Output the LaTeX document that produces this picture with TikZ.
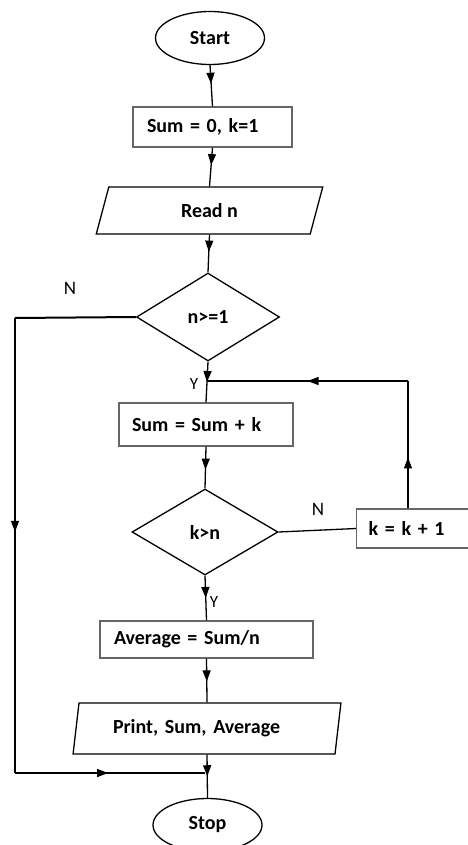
\documentclass[tikz,border=0pt]{standalone}
\usepackage{fontspec}
\setmainfont{Carlito}
\usetikzlibrary{shapes.geometric,arrows.meta,decorations.markings}
\tikzset{
  lbl/.style={font=\fontsize{19}{22}\selectfont},
  ylbl/.style={font=\fontsize{17}{20}\selectfont},
  term/.style={ellipse,draw=black,line width=1.3pt,inner sep=0pt,minimum width=109pt,minimum height=53pt,font=\fontsize{20}{24}\selectfont\bfseries},
  procbox/.style={rectangle,draw=black!60,line width=1.3pt,inner xsep=0pt,inner ysep=0pt,align=left,font=\fontsize{20}{24}\selectfont\bfseries},
  iobox/.style={trapezium,trapezium left angle=76,trapezium right angle=104,trapezium stretches=true,draw=black,line width=1.3pt,inner sep=0pt,font=\fontsize{20}{24}\selectfont\bfseries},
  decbox/.style={diamond,draw=black,line width=1.3pt,inner sep=0pt,font=\fontsize{20}{24}\selectfont\bfseries},
  conn/.style={draw=black,line width=1.3pt},
  midarrow/.style={postaction={decorate},decoration={markings,mark=at position #1 with {\arrow{Triangle[length=11pt,width=8pt]}}}}
}
\begin{document}
\begin{tikzpicture}[x=1pt,y=-1pt]
\useasboundingbox (0,0) rectangle (467,845);
\node[term] (start) at (210,38) {Start};
\node[procbox,minimum width=159pt,minimum height=40pt,text width=131pt] (init) at (212.5,127) {Sum = 0, k=1};
\node[iobox,minimum width=227pt,minimum height=47pt] (read) at (209.5,210.5) {Read n};
\node[decbox,minimum width=143pt,minimum height=88pt] (d1) at (208,317) {n>=1};
\node[procbox,minimum width=174pt,minimum height=43pt,text width=148pt] (sum) at (206,424.5) {Sum = Sum + k};
\node[decbox,minimum width=146pt,minimum height=86pt] (d2) at (205,532) {k>n};
\node[procbox,minimum width=114pt,minimum height=39pt,text width=90pt,anchor=west] (inc) at (356,528.5) {k = k + 1};
\node[procbox,minimum width=213pt,minimum height=37pt,text width=185pt] (avg) at (206.5,639.5) {Average = Sum/n};
\node[iobox,minimum width=268pt,minimum height=51pt,text width=188pt,align=left] (print) at (207,728.5) {Print, Sum, Average};
\node[term] (stop) at (207.5,825) {Stop};

\coordinate (jy) at (207,381);
\coordinate (jr) at (408,381);
\coordinate (nl) at (15,318);
\coordinate (nb) at (15,773);
\coordinate (jb) at (205,773);

\node[lbl] (n1) at (70,288) {N};
\node[lbl] (n2) at (318,509) {N};
\node[ylbl] (y1) at (194,384) {Y};
\node[ylbl] (y2) at (214,602) {Y};

\path[conn,midarrow=0.45] (start.south) -- (init.north);
\path[conn,midarrow=0.45] (init.south) -- (read.north);
\path[conn,midarrow=0.45] (read.south) -- (d1.north);
\path[conn,midarrow=0.5] (d1.south) -- (sum.north);
\path[conn,midarrow=0.55] (sum.south) -- (d2.north);
\path[conn,midarrow=0.5] (d2.south) -- (avg.north);
\path[conn,midarrow=0.52] (avg.south) -- (print.south |- print.north);
\path[conn,midarrow=0.5] (print.south) -- (stop.north);
\draw[conn] (d2.east) -- (inc.west);
\path[conn,midarrow=0.4] (inc.north -| jr) -- (jr);
\path[conn,midarrow=0.5] (jr) -- (jy);
\draw[conn,line width=2pt] (d1.west) -- (nl);
\path[conn,midarrow=0.47] (nl) -- (nb);
\path[conn,midarrow=0.49] (nb) -- (jb);
\end{tikzpicture}
\end{document}
